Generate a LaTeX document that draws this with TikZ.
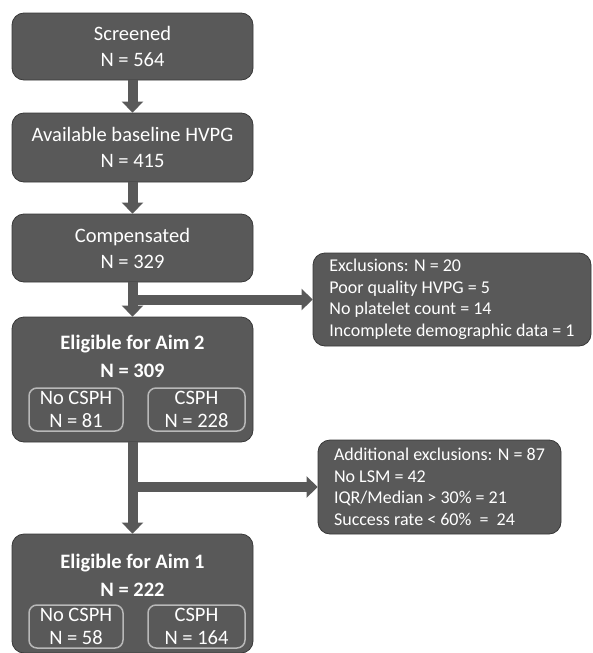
\documentclass[tikz,border=0pt]{standalone}
\usepackage{fontspec}
\setmainfont{Carlito}
\usetikzlibrary{arrows.meta}
\colorlet{boxgray}{black!65}
\colorlet{edgegray}{black!78}
\colorlet{innergray}{black!28}

\begin{document}
\begin{tikzpicture}[
    x=1pt, y=-1pt,
    mainbox/.style={rounded corners=12pt, fill=boxgray, draw=edgegray, line width=0.8pt,
        text=white, minimum width=241pt, align=center, inner sep=0pt,
        font=\fontsize{20.5}{26}\selectfont},
    titletext/.style={text=white, align=center, inner sep=0pt,
        font=\fontsize{20.5}{28}\selectfont\bfseries},
    subbox/.style={rounded corners=8pt, draw=innergray, line width=1.5pt,
        text=white, minimum height=43pt, align=center, inner sep=0pt,
        font=\fontsize{20.5}{23.5}\selectfont},
    exbox/.style={rounded corners=12pt, fill=boxgray, draw=edgegray, line width=0.8pt,
        text=white, align=left, inner xsep=15pt, inner ysep=0pt,
        font=\fontsize{18}{21.5}\selectfont},
    flow/.style={boxgray, line width=10pt, -{Triangle[length=11pt, width=21pt]}}
    ]

\useasboundingbox (0,0) rectangle (593,653);

% main column
\node[mainbox, minimum height=67pt] (screened) at (132.5,46.5) {Screened\\N = 564};
\node[mainbox, minimum height=69pt] (baseline) at (132.5,147.5) {Available baseline HVPG\\N = 415};
\node[mainbox, minimum height=68pt] (compens) at (132.5,248) {Compensated\\N = 329};

\node[mainbox, minimum height=125pt] (aimtwo) at (132.5,379.5) {};
\node[titletext] (aimtwotitle) at (132.5,356) {Eligible for Aim 2\\N = 309};
\node[subbox, minimum width=94pt] (nocsphtwo) at (76,409.5) {No CSPH\\N = 81};
\node[subbox, minimum width=97pt] (csphtwo) at (196.5,409.5) {CSPH\\N = 228};

\node[mainbox, minimum height=119pt] (aimone) at (132.5,593.5) {};
\node[titletext] (aimonetitle) at (132.5,575) {Eligible for Aim 1\\N = 222};
\node[subbox, minimum width=94pt] (nocsphone) at (76,626.5) {No CSPH\\N = 58};
\node[subbox, minimum width=97pt] (csphone) at (196.5,626.5) {CSPH\\N = 164};

% exclusions
\node[exbox, minimum width=278pt, minimum height=93pt] (exclone) at (452,299.5)
    {Exclusions: N = 20\\Poor quality HVPG = 5\\No platelet count = 14\\Incomplete demographic data = 1};
\node[exbox, minimum width=243pt, minimum height=94pt] (excltwo) at (439.5,487)
    {Additional exclusions: N = 87\\No LSM = 42\\IQR/Median > 30\% = 21\\Success rate < 60\% \ = \ 24};

% arrows
\draw[flow] (screened) -- (baseline);
\draw[flow] (baseline) -- (compens);
\draw[flow] (compens) -- (aimtwo);
\draw[flow] (aimtwo) -- (aimone);

\coordinate (splitone) at (compens.south |- exclone.west);
\coordinate (splittwo) at (aimtwo.south |- excltwo.west);
\draw[flow] (splitone) -- (exclone);
\draw[flow] (splittwo) -- (excltwo);

\end{tikzpicture}
\end{document}
